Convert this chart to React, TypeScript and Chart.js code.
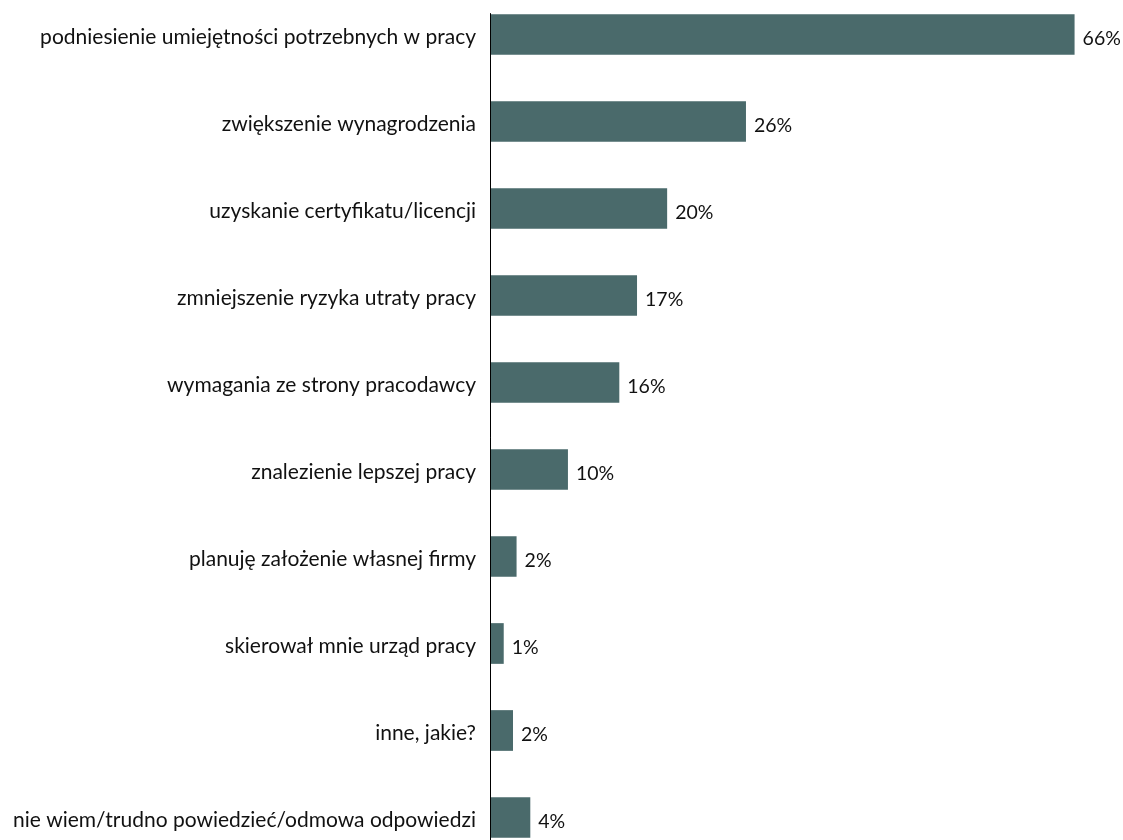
import React, { useEffect, useRef } from "react";
import { Chart, registerables } from "chart.js";

Chart.register(...registerables);

const categories = [
  "podniesienie umiejętności potrzebnych w pracy",
  "zwiększenie wynagrodzenia",
  "uzyskanie certyfikatu/licencji",
  "zmniejszenie ryzyka utraty pracy",
  "wymagania ze strony pracodawcy",
  "znalezienie lepszej pracy",
  "planuję założenie własnej firmy",
  "skierował mnie urząd pracy",
  "inne, jakie?",
  "nie wiem/trudno powiedzieć/odmowa odpowiedzi",
];

// bar lengths as drawn in the reference
const barValues = [66, 28.9, 20, 16.6, 14.6, 8.8, 3.0, 1.55, 2.6, 4.55];

// value labels as printed in the reference
const valueLabels = ["66%", "26%", "20%", "17%", "16%", "10%", "2%", "1%", "2%", "4%"];

const BAR_COLOR = "#4a6a6b";
const FONT = "Lato, 'Open Sans', sans-serif";

const labelPlugin = {
  id: "valueLabels",
  afterDatasetsDraw(chart: any) {
    const ctx = chart.ctx;
    const meta = chart.getDatasetMeta(0);
    ctx.save();
    ctx.font = `19.5px ${FONT}`;
    ctx.fillStyle = "#111";
    ctx.textAlign = "left";
    ctx.textBaseline = "middle";
    meta.data.forEach((bar: any, i: number) => {
      ctx.fillText(valueLabels[i], bar.x + 8, bar.y + 4);
    });
    // category axis line, starting at the top of the first bar
    const first: any = meta.data[0];
    const top = first.y - first.height / 2 - 1;
    const x = chart.chartArea.left + 0.5;
    ctx.strokeStyle = "#000";
    ctx.lineWidth = 1;
    ctx.beginPath();
    ctx.moveTo(x, top);
    ctx.lineTo(x, chart.chartArea.bottom);
    ctx.stroke();
    ctx.restore();
  },
};

export default function App() {
  const canvasRef = useRef<HTMLCanvasElement | null>(null);

  useEffect(() => {
    if (!canvasRef.current) return;
    const chart = new Chart(canvasRef.current, {
      type: "bar",
      data: {
        labels: categories,
        datasets: [
          {
            data: barValues,
            backgroundColor: BAR_COLOR,
            borderWidth: 0,
            categoryPercentage: 1,
            barPercentage: 0.468,
          },
        ],
      },
      options: {
        indexAxis: "y",
        animation: false,
        responsive: false,
        devicePixelRatio: 1,
        layout: { padding: { left: 0, right: 13, top: 0, bottom: 0 } },
        plugins: {
          legend: { display: false },
          tooltip: { enabled: false },
        },
        scales: {
          x: {
            display: false,
            min: 0,
            max: 70,
          },
          y: {
            grid: { display: false, drawTicks: false },
            border: { display: false },
            ticks: {
              padding: 14,
              labelOffset: 3,
              color: "#111",
              font: { family: FONT, size: 21 },
            },
            afterFit: (scale: any) => {
              scale.width = 490;
              scale.paddingTop = 0;
              scale.paddingBottom = 0;
            },
          },
        },
      },
      plugins: [labelPlugin],
    });
    return () => chart.destroy();
  }, []);

  return (
    <div style={{ position: "absolute", left: 0, top: -9, width: 1123, height: 870 }}>
      <canvas ref={canvasRef} width={1123} height={870} style={{ display: "block" }} />
    </div>
  );
}
